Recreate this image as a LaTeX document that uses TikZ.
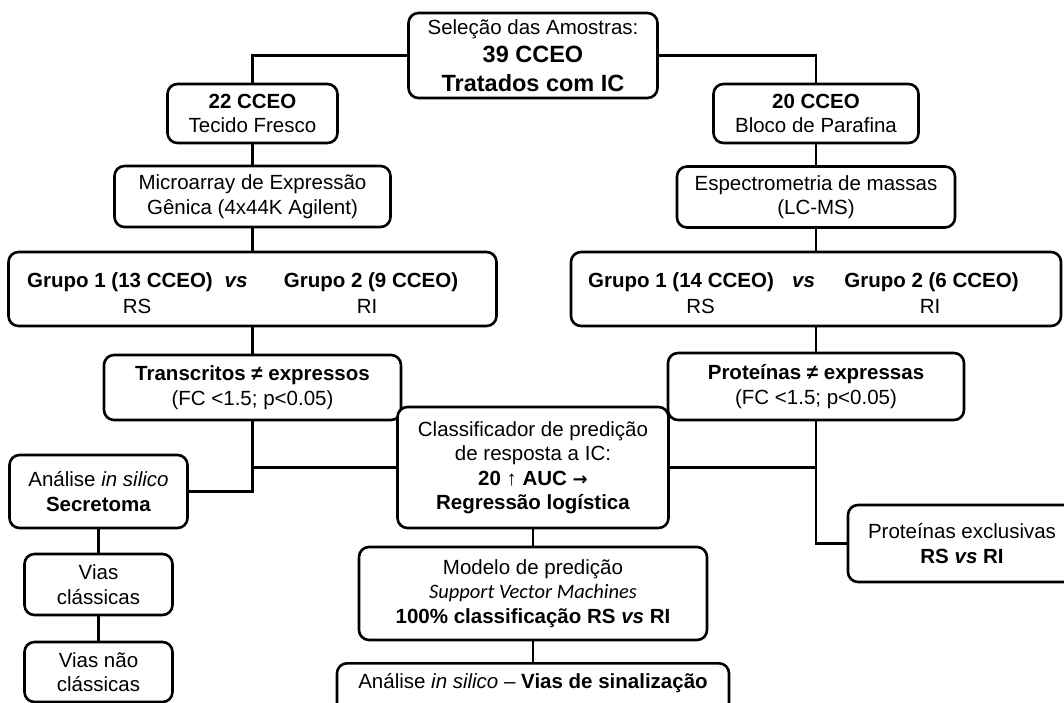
\documentclass[tikz,border=0pt]{standalone}
\usepackage{fontspec}
\setmainfont{Liberation Sans}
\newfontfamily\svmfont{Carlito}
\newfontfamily\arrowfont{DejaVu Sans}
\usetikzlibrary{positioning}

\newcommand{\boxfont}{\fontsize{20.5}{24.5}\selectfont}
\newcommand{\bigbf}{\fontsize{23.5}{28}\selectfont\bfseries}

\begin{document}
\begin{tikzpicture}[
    x=1pt, y=-1pt,
    box/.style={draw, line width=2.6pt, rounded corners=10pt, fill=white, align=center, inner sep=0pt, font=\boxfont},
    txt/.style={inner sep=0pt, font=\boxfont},
    link/.style={line width=2.6pt}
]
\useasboundingbox (0,0) rectangle (1064,702);

% Sample selection
\node[box, minimum width=249pt, minimum height=85pt, font=\fontsize{20.5}{28.5}\selectfont] (top) at (533,55.5)
    {Seleção das Amostras:\\{\bigbf 39 CCEO}\\{\bigbf Tratados com IC}};

% Left branch: transcriptome
\node[box, minimum width=170pt, minimum height=59pt] (c22) at (252.5,113.5) {\textbf{22 CCEO}\\Tecido Fresco};
\node[box, minimum width=276pt, minimum height=61pt] (micro) at (252.5,196.5) {Microarray de Expressão\\Gênica (4x44K Agilent)};
\node[box, minimum width=488pt, minimum height=74pt] (grp1) at (252.5,289) {};
\node[txt] (g1a) at (120,282) {\textbf{Grupo 1 (13 CCEO)}};
\node[txt] (g1vs) at (236,282) {\textbf{\textit{vs}}};
\node[txt] (g1b) at (371,282) {\textbf{Grupo 2 (9 CCEO)}};
\node[txt] (g1rs) at (137,306) {RS};
\node[txt] (g1ri) at (367,306) {RI};
\node[box, minimum width=297pt, minimum height=65pt] (transc) at (252.5,387.5) {\textbf{Transcritos ≠ expressos}\\(FC <1.5; p<0.05)};

% Secretome
\node[box, minimum width=178pt, minimum height=73pt] (secr) at (98.5,491.5) {Análise \textit{in silico}\\\textbf{Secretoma}};
\node[box, minimum width=148pt, minimum height=61pt] (vias1) at (98.5,584.5) {Vias\\clássicas};
\node[box, minimum width=148pt, minimum height=60pt] (vias2) at (98.5,672) {Vias não\\clássicas};

% Right branch: proteome
\node[box, minimum width=205pt, minimum height=59pt] (c20) at (816,113.5) {\textbf{20 CCEO}\\Bloco de Parafina};
\node[box, minimum width=278pt, minimum height=61pt] (espec) at (816,197) {Espectrometria de massas\\(LC-MS)};
\node[box, minimum width=490pt, minimum height=74pt] (grp2) at (816,289) {};
\node[txt] (g2a) at (681,282) {\textbf{Grupo 1 (14 CCEO)}};
\node[txt] (g2vs) at (803.5,282) {\textbf{\textit{vs}}};
\node[txt] (g2b) at (931.5,282) {\textbf{Grupo 2 (6 CCEO)}};
\node[txt] (g2rs) at (700.5,306) {RS};
\node[txt] (g2ri) at (930,306) {RI};
\node[box, minimum width=296pt, minimum height=67pt] (prot) at (816,386.5) {\textbf{Proteínas ≠ expressas}\\(FC <1.5; p<0.05)};
\node[box, minimum width=228pt, minimum height=77pt] (exclus) at (962,543.5) {Proteínas exclusivas\\\textbf{RS \textit{vs} RI}};

% Classifier and model
\node[box, minimum width=271pt, minimum height=121pt] (classif) at (533,467.5)
    {Classificador de predição\\de resposta a IC:\\\textbf{20 ↑ AUC {\arrowfont\fontsize{18}{20}\selectfont →}}\\\textbf{Regressão logística}};
\node[box, minimum width=348pt, minimum height=93pt] (modelo) at (533,593.5)
    {Modelo de predição\\{\svmfont\itshape Support Vector Machines}\\\textbf{100\% classificação RS \textit{vs} RI}};
\node[box, anchor=north, minimum width=392pt, text height=25pt, text depth=30pt] (vias3) at (533,662)
    {Análise \textit{in silico} – \textbf{Vias de sinalização}};

% Connections
\draw[link] (top.west) -| (c22.north);
\draw[link] (top.east) -| (c20.north);
\draw[link] (c22) -- (micro);
\draw[link] (micro) -- (grp1);
\draw[link] (grp1) -- (transc);
\draw[link] (c20) -- (espec);
\draw[link] (espec) -- (grp2);
\draw[link] (grp2) -- (prot);
\draw[link] (transc.south) |- (secr.east);
\draw[link] (transc.south |- classif.west) -- (classif.west);
\draw[link] (prot.south) |- (exclus.west);
\draw[link] (classif.east) -- (prot.south |- classif.east);
\draw[link] (secr) -- (vias1);
\draw[link] (vias1) -- (vias2);
\draw[link] (classif) -- (modelo);
\draw[link] (modelo) -- (vias3);

\end{tikzpicture}
\end{document}
